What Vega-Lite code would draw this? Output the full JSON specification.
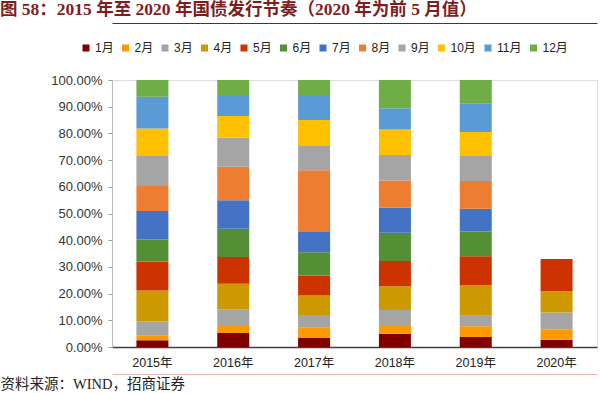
{
  "$schema": "https://vega.github.io/schema/vega-lite/v6.json",
  "width": 485,
  "height": 267,
  "autosize": {"type": "none"},
  "padding": {"left": 112, "top": 80, "right": 3, "bottom": 46},
  "background": "white",
  "title": {
    "text": "图 58：2015 年至 2020 年国债发行节奏（2020 年为前 5 月值）",
    "anchor": "start",
    "frame": "group",
    "dx": -112,
    "offset": 5,
    "font": "Liberation Serif, Noto Sans CJK SC",
    "fontSize": 17.5,
    "fontWeight": "bold",
    "color": "#7F1D1D"
  },
  "data": {
    "values": [
      {"year": "2015年", "month": "1月", "m": 1, "v": 0.025},
      {"year": "2015年", "month": "2月", "m": 2, "v": 0.019},
      {"year": "2015年", "month": "3月", "m": 3, "v": 0.0525},
      {"year": "2015年", "month": "4月", "m": 4, "v": 0.115},
      {"year": "2015年", "month": "5月", "m": 5, "v": 0.109},
      {"year": "2015年", "month": "6月", "m": 6, "v": 0.0825},
      {"year": "2015年", "month": "7月", "m": 7, "v": 0.106},
      {"year": "2015年", "month": "8月", "m": 8, "v": 0.094},
      {"year": "2015年", "month": "9月", "m": 9, "v": 0.115},
      {"year": "2015年", "month": "10月", "m": 10, "v": 0.10},
      {"year": "2015年", "month": "11月", "m": 11, "v": 0.119},
      {"year": "2015年", "month": "12月", "m": 12, "v": 0.063},
      {"year": "2016年", "month": "1月", "m": 1, "v": 0.0525},
      {"year": "2016年", "month": "2月", "m": 2, "v": 0.03},
      {"year": "2016年", "month": "3月", "m": 3, "v": 0.059},
      {"year": "2016年", "month": "4月", "m": 4, "v": 0.095},
      {"year": "2016年", "month": "5月", "m": 5, "v": 0.101},
      {"year": "2016年", "month": "6月", "m": 6, "v": 0.105},
      {"year": "2016年", "month": "7月", "m": 7, "v": 0.1075},
      {"year": "2016年", "month": "8月", "m": 8, "v": 0.125},
      {"year": "2016年", "month": "9月", "m": 9, "v": 0.109},
      {"year": "2016年", "month": "10月", "m": 10, "v": 0.081},
      {"year": "2016年", "month": "11月", "m": 11, "v": 0.079},
      {"year": "2016年", "month": "12月", "m": 12, "v": 0.056},
      {"year": "2017年", "month": "1月", "m": 1, "v": 0.034},
      {"year": "2017年", "month": "2月", "m": 2, "v": 0.04},
      {"year": "2017年", "month": "3月", "m": 3, "v": 0.046},
      {"year": "2017年", "month": "4月", "m": 4, "v": 0.0725},
      {"year": "2017年", "month": "5月", "m": 5, "v": 0.075},
      {"year": "2017年", "month": "6月", "m": 6, "v": 0.0875},
      {"year": "2017年", "month": "7月", "m": 7, "v": 0.076},
      {"year": "2017年", "month": "8月", "m": 8, "v": 0.231},
      {"year": "2017年", "month": "9月", "m": 9, "v": 0.094},
      {"year": "2017年", "month": "10月", "m": 10, "v": 0.094},
      {"year": "2017年", "month": "11月", "m": 11, "v": 0.09},
      {"year": "2017年", "month": "12月", "m": 12, "v": 0.06},
      {"year": "2018年", "month": "1月", "m": 1, "v": 0.05},
      {"year": "2018年", "month": "2月", "m": 2, "v": 0.0325},
      {"year": "2018年", "month": "3月", "m": 3, "v": 0.056},
      {"year": "2018年", "month": "4月", "m": 4, "v": 0.089},
      {"year": "2018年", "month": "5月", "m": 5, "v": 0.095},
      {"year": "2018年", "month": "6月", "m": 6, "v": 0.105},
      {"year": "2018年", "month": "7月", "m": 7, "v": 0.094},
      {"year": "2018年", "month": "8月", "m": 8, "v": 0.1025},
      {"year": "2018年", "month": "9月", "m": 9, "v": 0.095},
      {"year": "2018年", "month": "10月", "m": 10, "v": 0.096},
      {"year": "2018年", "month": "11月", "m": 11, "v": 0.079},
      {"year": "2018年", "month": "12月", "m": 12, "v": 0.106},
      {"year": "2019年", "month": "1月", "m": 1, "v": 0.0375},
      {"year": "2019年", "month": "2月", "m": 2, "v": 0.04},
      {"year": "2019年", "month": "3月", "m": 3, "v": 0.04},
      {"year": "2019年", "month": "4月", "m": 4, "v": 0.115},
      {"year": "2019年", "month": "5月", "m": 5, "v": 0.1075},
      {"year": "2019年", "month": "6月", "m": 6, "v": 0.0925},
      {"year": "2019年", "month": "7月", "m": 7, "v": 0.085},
      {"year": "2019年", "month": "8月", "m": 8, "v": 0.104},
      {"year": "2019年", "month": "9月", "m": 9, "v": 0.094},
      {"year": "2019年", "month": "10月", "m": 10, "v": 0.09},
      {"year": "2019年", "month": "11月", "m": 11, "v": 0.106},
      {"year": "2019年", "month": "12月", "m": 12, "v": 0.0885},
      {"year": "2020年", "month": "1月", "m": 1, "v": 0.0275},
      {"year": "2020年", "month": "2月", "m": 2, "v": 0.0375},
      {"year": "2020年", "month": "3月", "m": 3, "v": 0.064},
      {"year": "2020年", "month": "4月", "m": 4, "v": 0.08},
      {"year": "2020年", "month": "5月", "m": 5, "v": 0.121}
    ]
  },
  "resolve": {"axis": {"x": "independent"}},
  "layer": [
    {
      "mark": {"type": "bar", "width": 32},
      "encoding": {
        "x": {
          "field": "year", "type": "nominal", "sort": null,
          "scale": {"paddingInner": 0.6, "paddingOuter": 0.3},
          "axis": {
            "title": null, "labelAngle": 0, "labelFont": "Liberation Sans, Noto Sans CJK SC",
            "labelFontSize": 12.5, "labelColor": "#222", "labelPadding": 9,
            "ticks": false, "domainColor": "#404040", "domainWidth": 1.5
          }
        },
        "y": {
          "field": "v", "type": "quantitative", "stack": "zero",
          "scale": {"domain": [0, 1], "nice": false},
          "axis": {
            "title": null, "format": ".2%", "values": [0, 0.1, 0.2, 0.3, 0.4, 0.5, 0.6, 0.7, 0.8, 0.9, 1],
            "grid": false, "labelFont": "Liberation Sans", "labelFontSize": 13,
            "labelColor": "#333", "tickSize": 4, "tickColor": "#999", "domainColor": "#bbb",
            "labelPadding": 6
          }
        },
        "order": {"field": "m", "type": "quantitative"},
        "color": {
          "field": "month", "type": "nominal",
          "scale": {
            "domain": ["1月", "2月", "3月", "4月", "5月", "6月", "7月", "8月", "9月", "10月", "11月", "12月"],
            "range": ["#800000", "#FF9900", "#A5A5A5", "#CC9900", "#CC3300", "#548E35", "#4472C4", "#ED7D31", "#A5A5A5", "#FFC000", "#5B9BD5", "#70AD47"]
          },
          "legend": {
            "title": null, "orient": "none", "legendX": -32, "legendY": -38,
            "direction": "horizontal", "columns": 12, "columnPadding": 5.5,
            "symbolType": "square", "symbolSize": 49, "symbolStrokeWidth": 0,
            "labelFont": "Liberation Sans, Noto Sans CJK SC", "labelFontSize": 12,
            "labelColor": "#222", "labelOffset": 3
          }
        }
      }
    },
    {
      "mark": {"type": "bar", "opacity": 0},
      "encoding": {
        "x": {
          "field": "year", "type": "nominal", "sort": null,
          "axis": {
            "orient": "top", "offset": 57, "title": null, "labels": false, "ticks": false,
            "domainColor": "#7F1D1D", "domainWidth": 1.2
          }
        }
      }
    },
    {
      "mark": {"type": "bar", "opacity": 0},
      "encoding": {
        "x": {
          "field": "year", "type": "nominal", "sort": null,
          "axis": {
            "orient": "bottom", "offset": 27, "labels": false, "ticks": false,
            "domainColor": "#E0A0A0", "domainWidth": 0.8,
            "title": "资料来源：WIND，招商证券",
            "titleAnchor": "start", "titleAlign": "left", "titleX": -112, "titleY": 14,
            "titleBaseline": "alphabetic",
            "titleFont": "Liberation Serif, Noto Sans CJK SC", "titleFontSize": 14.5,
            "titleFontWeight": "normal", "titleColor": "#222"
          }
        }
      }
    }
  ]
}
